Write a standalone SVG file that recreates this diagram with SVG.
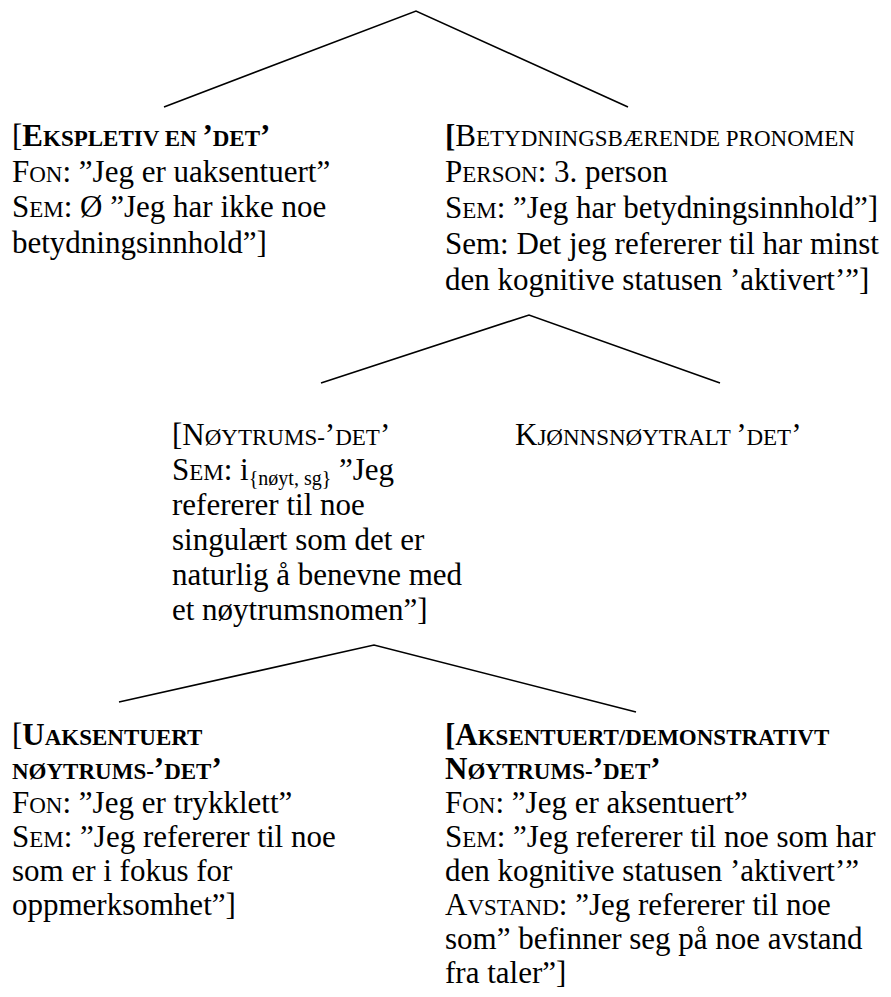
<svg xmlns="http://www.w3.org/2000/svg" width="891" height="997" viewBox="0 0 891 997">
<style>
.t{font-family:"Liberation Serif","Times New Roman",serif;font-size:31px;fill:#000}
.sc{font-size:23px}
.b{font-weight:bold}
.sub{font-size:20px}
.ln{stroke:#000;stroke-width:1.6;fill:none}
</style>
<rect width="891" height="997" fill="#fff"/>
<g id="connectors">
<polyline class="ln" points="164,107 416,11 628,107"/>
<polyline class="ln" points="321,383 529,315 720,383"/>
<polyline class="ln" points="119,702 374,645 636,712"/>
</g>
<g id="node-ekspletiv">
<text class="t" x="12" y="146">[<tspan class="b">E<tspan class="sc">KSPLETIV EN </tspan>’<tspan class="sc">DET</tspan>’</tspan></text>
<text class="t" x="12" y="182">F<tspan class="sc">ON</tspan>: ”Jeg er uaksentuert”</text>
<text class="t" x="12" y="217">S<tspan class="sc">EM</tspan>: Ø ”Jeg har ikke noe</text>
<text class="t" x="12" y="253">betydningsinnhold”]</text>
</g>
<g id="node-betydningsbaerende">
<text class="t" x="445" y="146"><tspan class="b">[</tspan>B<tspan class="sc">ETYDNINGSBÆRENDE PRONOMEN</tspan></text>
<text class="t" x="445" y="182">P<tspan class="sc">ERSON</tspan>: 3. person</text>
<text class="t" x="445" y="218">S<tspan class="sc">EM</tspan>: ”Jeg har betydningsinnhold”]</text>
<text class="t" x="445" y="254">Sem: Det jeg refererer til har minst</text>
<text class="t" x="445" y="290">den kognitive statusen ’aktivert’”]</text>
</g>
<g id="node-noytrums">
<text class="t" x="172" y="445">[N<tspan class="sc">ØYTRUMS-</tspan>’<tspan class="sc">DET</tspan>’</text>
<text class="t" x="172" y="480">S<tspan class="sc">EM</tspan>: i<tspan class="sub" dy="5">{nøyt, sg}</tspan><tspan dy="-5"> ”Jeg</tspan></text>
<text class="t" x="172" y="515">refererer til noe</text>
<text class="t" x="172" y="550">singulært som det er</text>
<text class="t" x="172" y="585">naturlig å benevne med</text>
<text class="t" x="172" y="620">et nøytrumsnomen”]</text>
</g>
<g id="node-kjonnsnoytralt">
<text class="t" x="515" y="445">K<tspan class="sc">JØNNSNØYTRALT </tspan>’<tspan class="sc">DET</tspan>’</text>
</g>
<g id="node-uaksentuert">
<text class="t" x="12" y="745">[<tspan class="b">U<tspan class="sc">AKSENTUERT</tspan></tspan></text>
<text class="t b" x="12" y="779"><tspan class="sc">NØYTRUMS-</tspan>’<tspan class="sc">DET</tspan>’</text>
<text class="t" x="12" y="813">F<tspan class="sc">ON</tspan>: ”Jeg er trykklett”</text>
<text class="t" x="12" y="847">S<tspan class="sc">EM</tspan>: ”Jeg refererer til noe</text>
<text class="t" x="12" y="881">som er i fokus for</text>
<text class="t" x="12" y="915">oppmerksomhet”]</text>
</g>
<g id="node-aksentuert">
<text class="t b" x="445" y="745">[A<tspan class="sc">KSENTUERT/DEMONSTRATIVT</tspan></text>
<text class="t b" x="445" y="779">N<tspan class="sc">ØYTRUMS-</tspan>’<tspan class="sc">DET</tspan>’</text>
<text class="t" x="445" y="813">F<tspan class="sc">ON</tspan>: ”Jeg er aksentuert”</text>
<text class="t" x="445" y="847">S<tspan class="sc">EM</tspan>: ”Jeg refererer til noe som har</text>
<text class="t" x="445" y="881">den kognitive statusen ’aktivert’”</text>
<text class="t" x="445" y="915">A<tspan class="sc">VSTAND</tspan>: ”Jeg refererer til noe</text>
<text class="t" x="445" y="949">som” befinner seg på noe avstand</text>
<text class="t" x="445" y="983">fra taler”]</text>
</g>
</svg>
